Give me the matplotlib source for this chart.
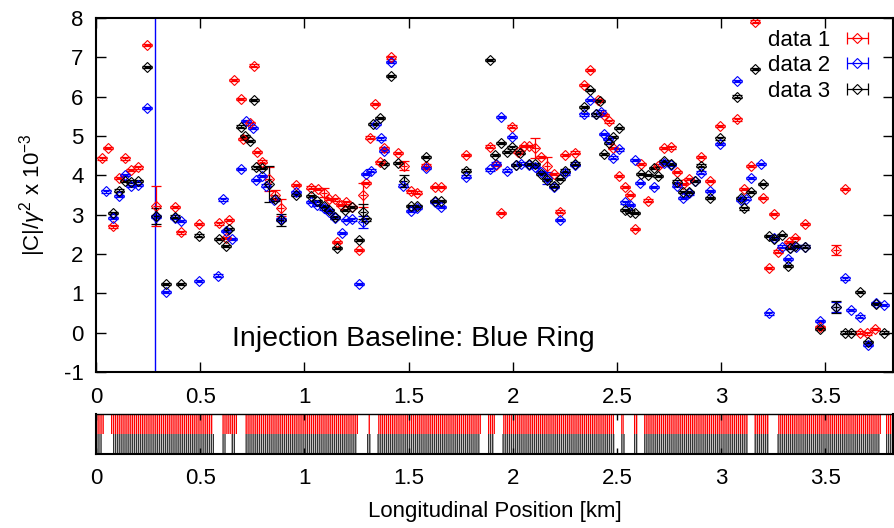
import numpy as np
import matplotlib
matplotlib.use("Agg")
import matplotlib.pyplot as plt
from matplotlib.lines import Line2D
from matplotlib.collections import LineCollection
from matplotlib.container import ErrorbarContainer
from matplotlib.legend_handler import HandlerErrorbar

plt.rcParams["font.family"] = ["Liberation Sans", "DejaVu Sans"]
plt.rcParams["mathtext.fontset"] = "custom"
plt.rcParams["mathtext.rm"] = "Liberation Sans"
plt.rcParams["mathtext.it"] = "Liberation Sans:italic"
plt.rcParams["axes.unicode_minus"] = False
plt.rcParams["hatch.linewidth"] = 1.0

# =============================================================================
# data
# =============================================================================

# data 1 (red)
red_x = [0.030, 0.056, 0.083, 0.110, 0.139, 0.168, 0.200, 0.246, 0.289, 0.379,
         0.406, 0.494, 0.590, 0.623, 0.639, 0.662, 0.695, 0.706, 0.738, 0.757,
         0.773, 0.797, 0.829, 0.858, 0.887, 0.962, 1.034, 1.066, 1.095, 1.119,
         1.146, 1.155, 1.175, 1.202, 1.229, 1.263, 1.282, 1.294, 1.317, 1.340,
         1.361, 1.382, 1.414, 1.449, 1.478, 1.510, 1.540, 1.582, 1.625, 1.657,
         1.777, 1.889, 1.921, 1.945, 1.997, 2.025, 2.053, 2.077, 2.108, 2.137,
         2.165, 2.197, 2.226, 2.253, 2.300, 2.344, 2.373, 2.409, 2.436, 2.462,
         2.481, 2.510, 2.541, 2.565, 2.589, 2.616, 2.651, 2.696, 2.728, 2.759,
         2.787, 2.819, 2.848, 2.904, 2.948, 2.995, 3.076, 3.111, 3.143, 3.164,
         3.200, 3.229, 3.252, 3.272, 3.327, 3.356, 3.402, 3.476, 3.552, 3.595,
         3.667, 3.700, 3.739]
red_y = [4.43, 4.70, 2.70, 3.94, 4.43, 4.14, 4.20, 7.32, 3.22, 3.20,
         2.55, 2.76, 2.78, 2.40, 2.87, 6.42, 5.94, 4.92, 5.32, 6.79,
         4.60, 4.35, 3.90, 3.50, 3.18, 3.76, 3.69, 3.65, 3.56, 3.40,
         3.39, 2.31, 3.25, 3.31, 3.20, 2.10, 3.50, 3.80, 4.96, 5.81,
         4.33, 4.70, 7.00, 4.56, 4.25, 3.59, 3.56, 4.25, 3.71, 3.71,
         4.52, 4.73, 4.26, 3.05, 5.24, 4.60, 4.75, 4.75, 4.70, 4.46,
         4.25, 4.04, 3.08, 4.52, 4.58, 6.30, 6.68, 5.92, 5.54, 5.37,
         4.70, 3.98, 3.71, 3.50, 2.63, 4.29, 3.36, 4.25, 4.69, 4.71,
         4.09, 3.78, 3.90, 4.47, 3.86, 5.26, 5.42, 3.65, 4.24, 7.91,
         3.42, 1.64, 3.01, 2.06, 2.31, 2.40, 2.76, 0.15, 2.10, 3.65,
         0.00, -0.02, 0.09]
red_big_err = {0.289: 0.52, 0.829: 0.30, 0.858: 0.12, 0.887: 0.22, 1.095: 0.12,
               1.282: 0.30, 1.478: 0.12, 2.108: 0.25, 2.165: 0.22, 3.552: 0.12}

# data 2 (blue)
blue_x = [0.048, 0.083, 0.112, 0.139, 0.168, 0.200, 0.246, 0.289, 0.334, 0.379,
          0.406, 0.494, 0.586, 0.610, 0.623, 0.655, 0.695, 0.718, 0.754, 0.770,
          0.799, 0.818, 0.855, 0.887, 0.962, 1.034, 1.062, 1.095, 1.119, 1.146,
          1.182, 1.202, 1.229, 1.263, 1.282, 1.294, 1.318, 1.342, 1.366, 1.382,
          1.414, 1.474, 1.510, 1.540, 1.582, 1.625, 1.657, 1.777, 1.889, 1.921,
          1.945, 1.973, 1.996, 2.017, 2.040, 2.077, 2.108, 2.137, 2.165, 2.197,
          2.226, 2.253, 2.300, 2.344, 2.373, 2.400, 2.424, 2.436, 2.457, 2.481,
          2.510, 2.541, 2.565, 2.589, 2.612, 2.676, 2.728, 2.759, 2.787, 2.819,
          2.848, 2.875, 2.904, 2.948, 2.995, 3.076, 3.095, 3.118, 3.143, 3.191,
          3.229, 3.256, 3.291, 3.320, 3.330, 3.359, 3.402, 3.476, 3.552, 3.595,
          3.623, 3.667, 3.706, 3.742, 3.782]
blue_y = [3.59, 2.92, 3.48, 4.01, 3.73, 3.76, 5.72, 2.95, 1.04, 2.92,
          2.84, 1.32, 1.45, 3.39, 2.59, 2.38, 4.16, 5.38, 5.21, 3.88,
          3.98, 3.74, 3.37, 2.88, 3.57, 3.33, 3.25, 3.16, 3.08, 2.92,
          2.53, 2.87, 2.88, 1.24, 2.82, 4.03, 4.12, 5.30, 4.94, 4.62,
          6.88, 3.74, 3.09, 3.18, 4.18, 3.33, 3.19, 3.97, 4.15, 4.30,
          5.48, 4.12, 4.97, 4.26, 4.30, 4.26, 4.22, 4.09, 3.93, 3.71,
          2.87, 4.05, 4.26, 5.55, 5.92, 5.55, 5.62, 5.05, 4.92, 4.45,
          4.66, 3.31, 3.25, 4.39, 3.80, 3.71, 4.32, 4.26, 3.74, 3.42,
          3.54, 3.86, 4.07, 3.60, 4.80, 6.40, 3.37, 3.41, 3.94, 4.29,
          0.49, 2.40, 2.19, 1.87, 2.15, 2.19, 2.19, 0.30, 0.65, 1.38,
          0.58, 0.41, -0.31, 0.75, 0.70]
blue_big_err = {1.282: 0.15, 2.165: 0.15, 3.552: 0.12}

# data 3 (black)
black_x = [0.083, 0.112, 0.139, 0.168, 0.200, 0.246, 0.289, 0.334, 0.379, 0.406,
           0.494, 0.590, 0.623, 0.639, 0.695, 0.714, 0.738, 0.757, 0.770, 0.799,
           0.829, 0.858, 0.887, 0.962, 1.034, 1.062, 1.095, 1.119, 1.146, 1.159,
           1.193, 1.229, 1.263, 1.282, 1.294, 1.329, 1.364, 1.382, 1.414, 1.449,
           1.476, 1.510, 1.540, 1.582, 1.625, 1.657, 1.777, 1.889, 1.917, 1.945,
           1.973, 1.996, 2.017, 2.037, 2.077, 2.108, 2.137, 2.165, 2.197, 2.226,
           2.253, 2.300, 2.344, 2.373, 2.400, 2.421, 2.438, 2.462, 2.481, 2.510,
           2.541, 2.565, 2.589, 2.616, 2.651, 2.676, 2.699, 2.728, 2.759, 2.787,
           2.819, 2.848, 2.875, 2.904, 2.948, 2.995, 3.076, 3.095, 3.111, 3.143,
           3.164, 3.200, 3.229, 3.256, 3.291, 3.320, 3.330, 3.356, 3.402, 3.476,
           3.552, 3.595, 3.623, 3.667, 3.706, 3.742, 3.782]
black_y = [3.04, 3.61, 3.86, 3.84, 3.86, 6.75, 2.97, 1.23, 2.95, 1.24,
           2.47, 2.38, 2.21, 2.64, 5.24, 5.00, 4.88, 5.92, 4.20, 4.18,
           3.78, 3.39, 2.87, 3.50, 3.48, 3.35, 3.22, 3.12, 2.93, 2.16,
           3.12, 3.20, 2.36, 3.08, 2.88, 5.30, 5.45, 4.29, 6.53, 4.31,
           3.86, 3.22, 3.22, 4.46, 3.35, 3.35, 4.12, 6.93, 4.52, 4.83,
           4.60, 4.71, 4.26, 4.58, 4.29, 4.29, 4.04, 3.88, 3.74, 3.90,
           4.12, 4.30, 5.73, 6.17, 5.55, 5.89, 4.54, 4.83, 4.98, 5.20,
           3.12, 3.08, 3.04, 4.04, 4.01, 4.18, 3.98, 4.37, 4.29, 3.84,
           3.57, 3.57, 3.86, 4.25, 3.43, 4.94, 6.00, 3.42, 3.16, 3.57,
           6.70, 3.78, 2.46, 2.39, 2.48, 1.70, 2.16, 2.20, 2.19, 0.10,
           0.65, 0.00, 0.00, 1.03, -0.24, 0.73, 0.00]
black_big_err = {0.289: 0.20, 0.829: 0.45, 0.887: 0.15, 1.282: 0.20,
                 1.476: 0.15, 3.552: 0.15}

series_names = ["data 1", "data 2", "data 3"]
series_colors = ["red", "blue", "black"]

# bottom strip: spans where the upper (red) and lower (black) bars are present [km]
red_spans = [(0.000, 0.040), (0.072, 0.563), (0.603, 0.677), (0.714, 1.257),
             (1.305, 1.317), (1.353, 1.849), (1.881, 1.913), (1.953, 2.488),
             (2.520, 2.536), (2.584, 2.600), (2.632, 3.127), (3.159, 3.231),
             (3.271, 3.766), (3.790, 3.830)]
black_spans = [(0.000, 0.027), (0.083, 0.565), (0.605, 0.625), (0.650, 0.665),
               (0.715, 1.255), (1.300, 1.320), (1.350, 1.845), (1.880, 1.910),
               (1.950, 2.490), (2.520, 2.540), (2.580, 2.600), (2.630, 3.130),
               (3.160, 3.230), (3.270, 3.765), (3.790, 3.830)]

blue_ring_x = 0.285

# =============================================================================
# plot
# =============================================================================

W, H = 894, 528
fig = plt.figure(figsize=(W / 100, H / 100), dpi=100)
ax = fig.add_axes([96 / W, 1 - 372 / H, 797 / W, 354 / H])
ax2 = fig.add_axes([96 / W, 1 - 454 / H, 797 / W, 40 / H])

all_x = [red_x, blue_x, black_x]
all_y = [red_y, blue_y, black_y]
all_err = [red_big_err, blue_big_err, black_big_err]

handles = []
for xs, ys, errs, col, name in zip(all_x, all_y, all_err, series_colors, series_names):
    yerr = [errs.get(x, 0.03) for x in xs]
    # vertical error bars
    ax.errorbar(xs, ys, yerr=yerr, fmt="none", ecolor=col,
                elinewidth=0.9, capsize=3.5, capthick=0.9)
    # markers + horizontal error bars
    ax.errorbar(xs, ys, xerr=0.016, fmt="D", mfc="none", mec=col, ecolor=col,
                color=col, ms=5.3, mew=0.8, elinewidth=0.9, capsize=0)

    # gnuplot-style legend sample: |--<>--|
    mk = Line2D([], [], ls="none", marker="D", mfc="none", mec=col, ms=5.3, mew=0.8)
    cap = Line2D([], [], ls="none", marker="|", color=col, ms=8, mew=0.9)
    bar = LineCollection([], colors=col, linewidths=0.9)
    handles.append(ErrorbarContainer((mk, (cap,), (bar,)), has_xerr=True,
                                     has_yerr=False, label=name))

ax.axvline(blue_ring_x, color="blue", lw=1.0, zorder=1)

ax.text(0.652, -0.35, "Injection Baseline: Blue Ring", fontsize=20.5,
        va="baseline", ha="left")

ax.set_xlim(0, 3.825)
ax.set_ylim(-1, 8)
ax.set_yticks(range(-1, 9))
xt = [0, 0.5, 1, 1.5, 2, 2.5, 3, 3.5]
xtl = ["0", "0.5", "1", "1.5", "2", "2.5", "3", "3.5"]
ax.set_xticks(xt)
ax.set_xticklabels(xtl)
ax.tick_params(direction="in", top=True, right=True, length=7, width=1.0,
               labelsize=16, pad=9)
ax.tick_params(axis="x", pad=11)
for sp in ax.spines.values():
    sp.set_linewidth(1.5)
ax.set_ylabel(r"$\mathrm{|C|}/\gamma^2$ x 10$^{-3}$", fontsize=16, labelpad=11)

ax.legend(handles=handles, loc="upper right", frameon=False, markerfirst=False,
          fontsize=16, handlelength=1.2, labelspacing=0.2, handletextpad=0.6,
          bbox_to_anchor=(0.983, 0.992), borderaxespad=0.0,
          handler_map={ErrorbarContainer: HandlerErrorbar(xerr_size=0.47)})

# bottom strip
for a, b in red_spans:
    ax2.axvspan(a, b, ymin=0.5, ymax=1.0, facecolor="none", edgecolor="red",
                hatch="||||||||", linewidth=0)
for a, b in black_spans:
    ax2.axvspan(a, b, ymin=0.0, ymax=0.5, facecolor="none", edgecolor="#333333",
                hatch="||||||||", linewidth=0)

ax2.set_xlim(0, 3.825)
ax2.set_ylim(0, 1)
ax2.set_yticks([])
ax2.set_xticks(xt)
ax2.set_xticklabels(xtl)
ax2.tick_params(direction="in", top=True, length=4, width=1.0, labelsize=16, pad=10)
for sp in ax2.spines.values():
    sp.set_linewidth(1.5)
ax2.spines["top"].set_linewidth(1.0)
ax2.set_xlabel("Longitudinal Position [km]", fontsize=16, labelpad=9)

fig.savefig("out.png", dpi=100)
